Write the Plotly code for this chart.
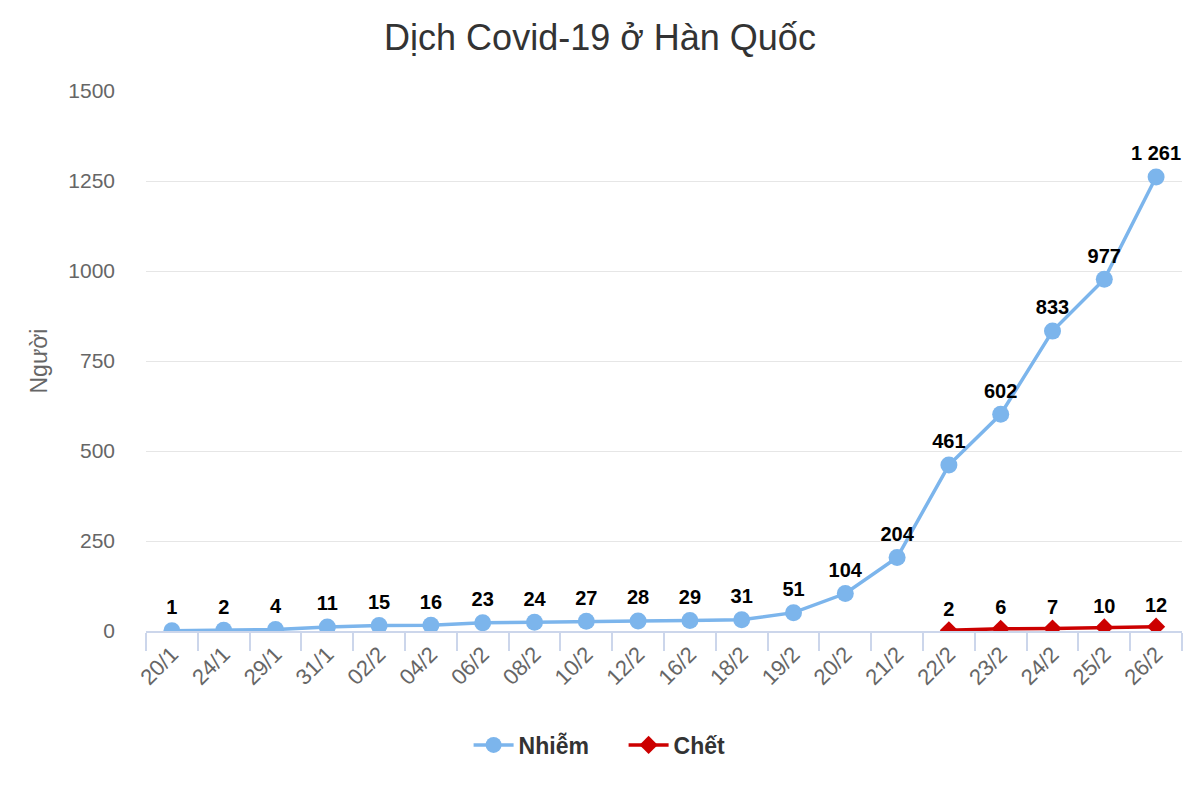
import plotly.graph_objects as go

# ── Dati ──────────────────────────────────────────────────────────────────────
dates = ["20/1", "24/1", "29/1", "31/1", "02/2", "04/2", "06/2", "08/2", "10/2", "12/2",
         "16/2", "18/2", "19/2", "20/2", "21/2", "22/2", "23/2", "24/2", "25/2", "26/2"]
nhiem = [1, 2, 4, 11, 15, 16, 23, 24, 27, 28, 29, 31, 51, 104, 204, 461, 602, 833, 977, 1261]
chet_dates = ["22/2", "23/2", "24/2", "25/2", "26/2"]
chet = [2, 6, 7, 10, 12]

def fmt(v):
    return f"{v:,}".replace(",", " ")

LABEL_FONT = dict(family="Liberation Sans, Arial", size=20, color="#000000", weight="bold")

fig = go.Figure()

fig.add_trace(go.Scatter(
    x=dates, y=nhiem, name="Nhiễm",
    mode="lines+markers+text",
    line=dict(color="#7cb5ec", width=3.5),
    marker=dict(size=17, color="#7cb5ec"),
    text=[fmt(v) for v in nhiem], textposition="top center",
    textfont=LABEL_FONT,
))
fig.add_trace(go.Scatter(
    x=chet_dates, y=chet, name="Chết",
    mode="lines+markers+text",
    line=dict(color="#cc0000", width=3.5),
    marker=dict(size=14, color="#cc0000", symbol="diamond"),
    text=[fmt(v) for v in chet], textposition="top center",
    textfont=LABEL_FONT,
))

# pagina con margine body di 8px -> figura 1184x784
fig.update_layout(
    width=1184, height=784,
    paper_bgcolor="white", plot_bgcolor="white",
    font=dict(family="Liberation Sans, Arial", color="#666666"),
    title=dict(text="Dịch Covid-19 ở Hàn Quốc", x=0.5, y=0.963, xanchor="center", yanchor="middle",
               font=dict(size=36, color="#333333")),
    margin=dict(l=138, r=10, t=83, b=161, autoexpand=False),
    showlegend=True,
    legend=dict(orientation="h", x=0.461, xanchor="center",
                y=-0.211, yanchor="middle",
                font=dict(size=23, color="#333333", weight="bold"), itemwidth=40,
                entrywidth=100, entrywidthmode="pixels"),
    xaxis=dict(type="category", categoryorder="array", categoryarray=dates,
               tickson="boundaries", ticks="outside", ticklen=18, tickwidth=1.5,
               tickcolor="#ccd6eb",
               showline=True, linecolor="#ccd6eb", linewidth=1.5, showgrid=False,
               tickangle=-45, tickfont=dict(size=22, color="#666666"),
               range=[-0.5, 19.5]),
    yaxis=dict(range=[0, 1500], tickvals=[0, 250, 500, 750, 1000, 1250, 1500],
               gridcolor="#e6e6e6", zeroline=False, showline=False,
               tickfont=dict(size=21, color="#666666"), ticks="", ticklabelstandoff=30,
               title=dict(text="Người", font=dict(size=23, color="#666666"), standoff=14)),
)

fig.write_html("out.html")
